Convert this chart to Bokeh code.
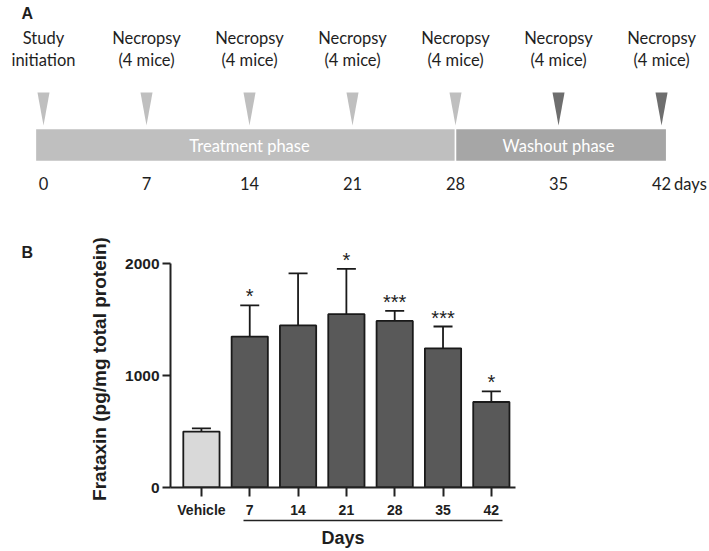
from bokeh.plotting import figure
from bokeh.models import (Range1d, FixedTicker, LinearAxis, Whisker, TeeHead,
                          ColumnDataSource)
from bokeh.layouts import column
from bokeh.embed import file_html
from bokeh.resources import INLINE
from bokeh.core.properties import value

# ---------------- Panel A data (study timeline) ----------------
timeline_days = [0, 7, 14, 21, 28, 35, 42]
day_labels = ["0", "7", "14", "21", "28", "35", "42"]
event_line1 = ["Study", "Necropsy", "Necropsy", "Necropsy", "Necropsy", "Necropsy", "Necropsy"]
event_line2 = ["initiation", "(4 mice)", "(4 mice)", "(4 mice)", "(4 mice)", "(4 mice)", "(4 mice)"]
event_phase = ["treatment", "treatment", "treatment", "treatment", "treatment", "washout", "washout"]
phase_names = ["Treatment phase", "Washout phase"]
phase_start = [0, 28]
phase_end = [28, 42]

# ---------------- Panel B data (frataxin levels) ----------------
categories = ["Vehicle", "7", "14", "21", "28", "35", "42"]
frataxin_mean = [500, 1350, 1450, 1550, 1490, 1245, 765]
frataxin_sem = [28, 280, 465, 405, 90, 195, 95]
significance = ["", "*", "", "*", "***", "***", "*"]
y_ticks = [0, 1000, 2000]

# ---------------- styles ----------------
FONT_A = "Lato"
FONT_B = "Liberation Sans"
TXT = "#1e1e1e"
LIGHT = "#bfbfbf"
MID = "#a6a6a6"
DARK_TRI = "#6e6e6e"

W = 709
HA = 200
HB = 351

# ================= Panel A =================
pa = figure(width=W, height=HA, output_backend="svg", toolbar_location=None,
            x_axis_location=None, y_axis_location=None, min_border=0,
            x_range=Range1d(-2.922, 45.26), y_range=Range1d(HA, 0))
pa.frame_align = False
pa.outline_line_color = None
pa.xgrid.visible = False
pa.ygrid.visible = False
pa.background_fill_color = "white"

# vertical layout (screen px from top of panel)
Y_A, Y_L1, Y_L2 = 12.5, 37, 59
Y_TRI_TOP, Y_TRI_TIP = 92, 125
Y_BAR_TOP, Y_BAR_BOT = 128, 161
Y_PHASE = 145
Y_DAY = 183
TRI_HALF = 0.41  # days
PAD_L, PAD_R = 0.55, 0.35

pa.text(x=[-1.5], y=[Y_A], text=["A"], text_font=value(FONT_B), text_font_style="bold",
        text_font_size="16px", text_color=TXT, text_baseline="middle", text_align="left")

pa.text(x=timeline_days, y=[Y_L1] * len(timeline_days), text=event_line1,
        text_font=value(FONT_A), text_font_size="16.5px", text_color=TXT,
        text_align="center", text_baseline="middle")
pa.text(x=timeline_days, y=[Y_L2] * len(timeline_days), text=event_line2,
        text_font=value(FONT_A), text_font_size="16.5px", text_color=TXT,
        text_align="center", text_baseline="middle")

tri_xs = [[d - TRI_HALF, d + TRI_HALF, d] for d in timeline_days]
tri_ys = [[Y_TRI_TOP, Y_TRI_TOP, Y_TRI_TIP] for _ in timeline_days]
tri_col = [LIGHT if ph == "treatment" else DARK_TRI for ph in event_phase]
pa.patches(xs=tri_xs, ys=tri_ys, fill_color=tri_col, line_color=None)

bar_left = [s - (PAD_L if i == 0 else 0) for i, s in enumerate(phase_start)]
bar_right = [e + (PAD_R if i == len(phase_end) - 1 else 0) for i, e in enumerate(phase_end)]
pa.quad(left=bar_left, right=bar_right, top=[Y_BAR_TOP] * 2, bottom=[Y_BAR_BOT] * 2,
        fill_color=[LIGHT, MID], line_color="white", line_width=1.5)
pa.text(x=[(s + e) / 2 for s, e in zip(phase_start, phase_end)], y=[Y_PHASE] * 2,
        text=phase_names, text_font=value(FONT_A), text_font_size="16.5px",
        text_color="white", text_align="center", text_baseline="middle")

pa.text(x=timeline_days, y=[Y_DAY] * len(timeline_days), text=day_labels,
        text_font=value(FONT_A), text_font_size="16.5px", text_color=TXT,
        text_align="center", text_baseline="middle")
pa.text(x=[timeline_days[-1]], y=[Y_DAY], text=["days"], x_offset=12.5,
        text_font=value(FONT_A), text_font_size="16.5px", text_color=TXT,
        text_align="left", text_baseline="middle")

# ================= Panel B =================
idx = list(range(len(categories)))
upper = [m + s for m, s in zip(frataxin_mean, frataxin_sem)]
fills = ["#d9d9d9" if c == "Vehicle" else "#595959" for c in categories]
src = ColumnDataSource(dict(x=idx, mean=frataxin_mean, upper=upper, fill=fills,
                            sig=significance))

pb = figure(width=W, height=HB, output_backend="svg", toolbar_location=None,
            x_range=Range1d(-0.64, 6.5), y_range=Range1d(0, 2120),
            min_border_left=170, min_border_right=194, min_border_top=50,
            min_border_bottom=64, title="B")
pb.frame_align = False
pb.outline_line_color = None
pb.xgrid.visible = False
pb.ygrid.visible = False
pb.title.align = "left"
pb.title.offset = -149
pb.title.standoff = -21
pb.title.vertical_align = "bottom"
pb.title.text_font = FONT_B
pb.title.text_font_style = "bold"
pb.title.text_font_size = "16px"
pb.title.text_color = TXT

pb.vbar(x="x", top="mean", width=0.75, fill_color="fill", line_color="#1a1a1a",
        line_width=1.8, source=src)
pb.add_layout(Whisker(base="x", lower="mean", upper="upper", source=src,
                      line_color="#1a1a1a", line_width=1.8, lower_head=None,
                      upper_head=TeeHead(size=19, line_color="#1a1a1a", line_width=1.8)))
pb.text(x="x", y="upper", text="sig", source=src, text_align="center",
        text_baseline="alphabetic", y_offset=-9, text_font=value(FONT_B),
        text_font_size="20px", text_color=TXT)

yax = pb.yaxis[0]
yax.ticker = FixedTicker(ticks=y_ticks)
yax.bounds = (y_ticks[0], y_ticks[-1])
yax.axis_line_width = 2
yax.axis_line_color = "#222222"
yax.major_tick_line_width = 2
yax.major_tick_line_color = "#222222"
yax.major_tick_in = 0
yax.major_tick_out = 8
yax.minor_tick_line_color = None
yax.major_label_text_font = FONT_B
yax.major_label_text_font_style = "bold"
yax.major_label_text_font_size = "15.5px"
yax.major_label_text_color = TXT
yax.major_label_standoff = 3
yax.axis_label = "Frataxin (pg/mg total protein)"
yax.axis_label_text_font = FONT_B
yax.axis_label_text_font_style = "bold"
yax.axis_label_text_font_size = "19px"
yax.axis_label_text_color = TXT
yax.axis_label_standoff = 12

xax = pb.xaxis[0]
xax.ticker = FixedTicker(ticks=idx)
xax.major_label_overrides = {i: c for i, c in zip(idx, categories)}
xax.axis_line_width = 2
xax.axis_line_color = "#222222"
xax.major_tick_line_width = 2
xax.major_tick_line_color = "#222222"
xax.major_tick_in = 0
xax.major_tick_out = 9
xax.minor_tick_line_color = None
xax.major_label_text_font = FONT_B
xax.major_label_text_font_style = "bold"
xax.major_label_text_font_size = "14px"
xax.major_label_text_color = TXT
xax.major_label_standoff = 5

days_ax = LinearAxis(ticker=FixedTicker(ticks=[]), bounds=(0.88, 6.23),
                     axis_line_width=1.5, axis_line_color="#222222",
                     major_tick_line_color=None, minor_tick_line_color=None,
                     major_tick_out=0, major_tick_in=0, minor_tick_out=0, minor_tick_in=0,
                     major_label_text_font_size="0px", major_label_standoff=0,
                     axis_label="Days", axis_label_text_font=FONT_B,
                     axis_label_text_font_style="bold", axis_label_text_font_size="18px",
                     axis_label_text_color=TXT, axis_label_standoff=7)
pb.add_layout(days_ax, "below")

layout = column(pa, pb, spacing=0)
open("out.html", "w").write(file_html(layout, INLINE))
